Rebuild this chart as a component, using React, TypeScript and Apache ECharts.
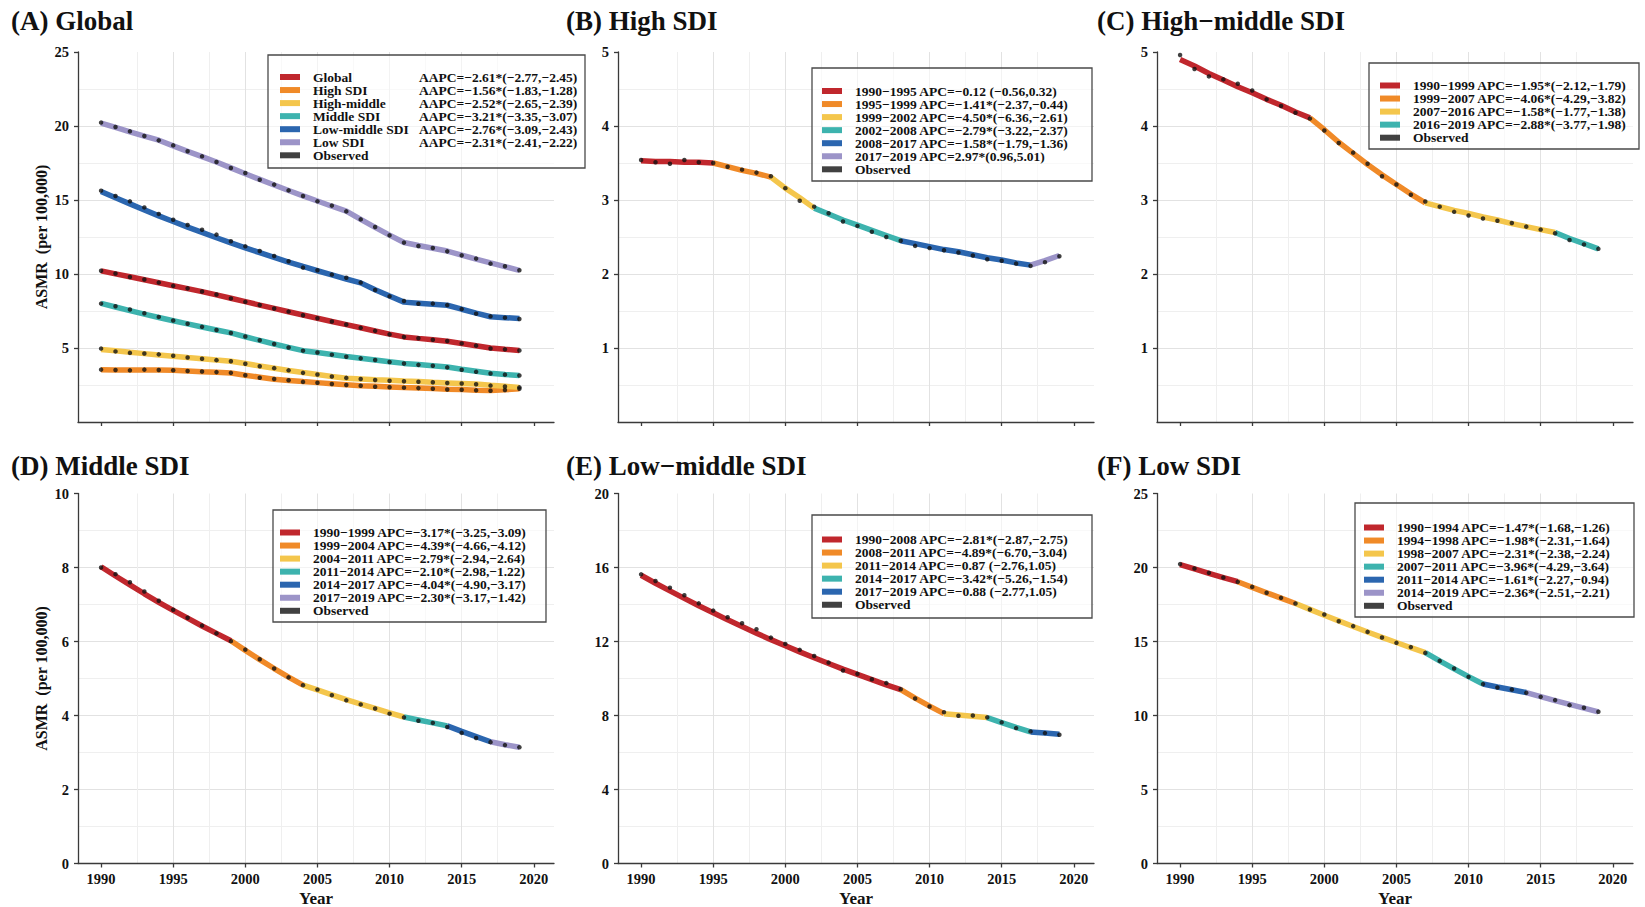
import React, { useEffect, useRef } from "react";
import * as echarts from "echarts";

// ---------------- DATA ----------------
const years = [1990, 1991, 1992, 1993, 1994, 1995, 1996, 1997, 1998, 1999, 2000, 2001, 2002, 2003, 2004, 2005, 2006, 2007, 2008, 2009, 2010, 2011, 2012, 2013, 2014, 2015, 2016, 2017, 2018, 2019];
const tickYears = [1990, 1995, 2000, 2005, 2010, 2015, 2020];

const globalObserved = [10.22, 10.03, 9.8, 9.63, 9.42, 9.2, 9.03, 8.82, 8.61, 8.35, 8.12, 7.91, 7.67, 7.46, 7.21, 7.01, 6.79, 6.59, 6.36, 6.16, 5.92, 5.74, 5.66, 5.56, 5.47, 5.31, 5.16, 4.97, 4.91, 4.83];
const globalFitted = [10.21, 10.01, 9.81, 9.61, 9.41, 9.21, 9.01, 8.81, 8.59, 8.36, 8.13, 7.9, 7.68, 7.45, 7.23, 7.01, 6.79, 6.58, 6.37, 6.15, 5.94, 5.75, 5.65, 5.56, 5.46, 5.31, 5.15, 5.0, 4.91, 4.83];

const highObserved = [3.54, 3.51, 3.49, 3.54, 3.51, 3.5, 3.45, 3.41, 3.37, 3.32, 3.16, 2.99, 2.91, 2.82, 2.71, 2.65, 2.57, 2.5, 2.45, 2.38, 2.35, 2.32, 2.29, 2.25, 2.2, 2.18, 2.14, 2.11, 2.16, 2.24];
const highFitted = [3.53, 3.52, 3.52, 3.51, 3.51, 3.5, 3.45, 3.4, 3.36, 3.31, 3.16, 3.03, 2.89, 2.81, 2.73, 2.66, 2.59, 2.52, 2.45, 2.41, 2.37, 2.33, 2.3, 2.26, 2.22, 2.19, 2.15, 2.12, 2.18, 2.25];

const highMiddleObserved = [4.96, 4.77, 4.67, 4.63, 4.57, 4.48, 4.36, 4.27, 4.18, 4.1, 3.94, 3.77, 3.64, 3.49, 3.32, 3.21, 3.07, 2.98, 2.91, 2.84, 2.79, 2.75, 2.72, 2.69, 2.64, 2.6, 2.55, 2.46, 2.4, 2.34];
const highMiddleFitted = [4.9, 4.81, 4.71, 4.62, 4.53, 4.45, 4.36, 4.28, 4.19, 4.11, 3.95, 3.78, 3.63, 3.48, 3.34, 3.21, 3.08, 2.96, 2.91, 2.86, 2.82, 2.77, 2.73, 2.68, 2.64, 2.6, 2.56, 2.48, 2.41, 2.34];

const middleObserved = [8.0, 7.82, 7.6, 7.35, 7.1, 6.86, 6.64, 6.43, 6.22, 6.01, 5.78, 5.52, 5.27, 5.03, 4.82, 4.7, 4.55, 4.41, 4.3, 4.19, 4.05, 3.95, 3.86, 3.8, 3.69, 3.53, 3.39, 3.28, 3.2, 3.14];
const middleFitted = [8.02, 7.77, 7.53, 7.29, 7.06, 6.84, 6.63, 6.42, 6.22, 6.02, 5.76, 5.51, 5.27, 5.04, 4.82, 4.69, 4.56, 4.43, 4.31, 4.19, 4.07, 3.96, 3.88, 3.8, 3.72, 3.57, 3.43, 3.29, 3.21, 3.14];

const lowMiddleObserved = [15.63, 15.27, 14.91, 14.5, 14.06, 13.67, 13.31, 12.99, 12.66, 12.21, 11.87, 11.55, 11.22, 10.86, 10.43, 10.25, 9.96, 9.75, 9.42, 8.92, 8.49, 8.18, 7.99, 8.0, 7.9, 7.63, 7.32, 7.14, 7.05, 6.96];
const lowMiddleFitted = [15.58, 15.15, 14.74, 14.33, 13.93, 13.55, 13.17, 12.81, 12.45, 12.1, 11.77, 11.44, 11.12, 10.81, 10.51, 10.22, 9.94, 9.66, 9.4, 8.94, 8.51, 8.1, 8.03, 7.96, 7.89, 7.62, 7.36, 7.11, 7.05, 6.99];

const lowObserved = [20.23, 19.93, 19.64, 19.32, 19.03, 18.69, 18.29, 17.95, 17.57, 17.16, 16.82, 16.37, 16.04, 15.65, 15.27, 14.91, 14.62, 14.23, 13.69, 13.18, 12.61, 12.12, 11.89, 11.76, 11.53, 11.26, 11.04, 10.7, 10.52, 10.25];
const lowFitted = [20.2, 19.9, 19.61, 19.32, 19.04, 18.66, 18.29, 17.93, 17.57, 17.17, 16.77, 16.39, 16.01, 15.64, 15.28, 14.93, 14.58, 14.25, 13.69, 13.15, 12.63, 12.13, 11.93, 11.74, 11.55, 11.28, 11.01, 10.75, 10.5, 10.25];

const regionNames = ["Global", "High SDI", "High-middle", "Middle SDI", "Low-middle SDI", "Low SDI"];
const regionAAPC = [
  "AAPC=−2.61*(−2.77,−2.45)",
  "AAPC=−1.56*(−1.83,−1.28)",
  "AAPC=−2.52*(−2.65,−2.39)",
  "AAPC=−3.21*(−3.35,−3.07)",
  "AAPC=−2.76*(−3.09,−2.43)",
  "AAPC=−2.31*(−2.41,−2.22)",
];

const highBreaks = [1990, 1995, 1999, 2002, 2008, 2017, 2019];
const highLabels = [
  "1990−1995 APC=−0.12 (−0.56,0.32)",
  "1995−1999 APC=−1.41*(−2.37,−0.44)",
  "1999−2002 APC=−4.50*(−6.36,−2.61)",
  "2002−2008 APC=−2.79*(−3.22,−2.37)",
  "2008−2017 APC=−1.58*(−1.79,−1.36)",
  "2017−2019 APC=2.97*(0.96,5.01)",
];
const highMiddleBreaks = [1990, 1999, 2007, 2016, 2019];
const highMiddleLabels = [
  "1990−1999 APC=−1.95*(−2.12,−1.79)",
  "1999−2007 APC=−4.06*(−4.29,−3.82)",
  "2007−2016 APC=−1.58*(−1.77,−1.38)",
  "2016−2019 APC=−2.88*(−3.77,−1.98)",
];
const middleBreaks = [1990, 1999, 2004, 2011, 2014, 2017, 2019];
const middleLabels = [
  "1990−1999 APC=−3.17*(−3.25,−3.09)",
  "1999−2004 APC=−4.39*(−4.66,−4.12)",
  "2004−2011 APC=−2.79*(−2.94,−2.64)",
  "2011−2014 APC=−2.10*(−2.98,−1.22)",
  "2014−2017 APC=−4.04*(−4.90,−3.17)",
  "2017−2019 APC=−2.30*(−3.17,−1.42)",
];
const lowMiddleBreaks = [1990, 2008, 2011, 2014, 2017, 2019];
const lowMiddleLabels = [
  "1990−2008 APC=−2.81*(−2.87,−2.75)",
  "2008−2011 APC=−4.89*(−6.70,−3.04)",
  "2011−2014 APC=−0.87 (−2.76,1.05)",
  "2014−2017 APC=−3.42*(−5.26,−1.54)",
  "2017−2019 APC=−0.88 (−2.77,1.05)",
];
const lowBreaks = [1990, 1994, 1998, 2007, 2011, 2014, 2019];
const lowLabels = [
  "1990−1994 APC=−1.47*(−1.68,−1.26)",
  "1994−1998 APC=−1.98*(−2.31,−1.64)",
  "1998−2007 APC=−2.31*(−2.38,−2.24)",
  "2007−2011 APC=−3.96*(−4.29,−3.64)",
  "2011−2014 APC=−1.61*(−2.27,−0.94)",
  "2014−2019 APC=−2.36*(−2.51,−2.21)",
];

const panelTitles = ["(A) Global", "(B) High SDI", "(C) High−middle SDI", "(D) Middle SDI", "(E) Low−middle SDI", "(F) Low SDI"];
const yMax = [25, 5, 5, 10, 20, 25];
const yInterval = [5, 1, 1, 2, 4, 5];

// ---------------- STYLE / LAYOUT ----------------
const palette = ["#C0272D", "#F08A28", "#F4C64C", "#3DB3AE", "#2B66AF", "#9C94C8"];
const FONT = "'Liberation Serif', 'Times New Roman', serif";
const colLeft = [78, 618, 1157];
const rowTop = [52, 493.5];
const plotW = 476;
const plotH = 370;
const titlePos = [[11, 7], [566, 7], [1097, 7], [11, 452], [566, 452], [1097, 452]];
const legendPos = [[280, 70], [822, 84], [1380, 78.5], [280, 525.5], [822, 532.5], [1364, 520.5]];
const legendBox = [
  [268, 55, 317, 113],
  [812, 68, 280, 113],
  [1369, 63, 270, 86],
  [273, 510, 273, 112],
  [812, 515, 280, 103],
  [1355, 503, 279, 114],
];
const legendGap = -0.95;

function buildOption() {
  const grids: any[] = [];
  const xAxes: any[] = [];
  const yAxes: any[] = [];
  const series: any[] = [];
  const legends: any[] = [];
  const titles: any[] = [];
  const graphics: any[] = [];

  const axisColor = "#3a3a3a";
  const labelStyle = { fontFamily: FONT, fontWeight: "bold", fontSize: 14.5, color: "#111" };

  for (let p = 0; p < 6; p++) {
    const row = p < 3 ? 0 : 1;
    const col = p % 3;
    grids.push({ left: colLeft[col], top: rowTop[row], width: plotW, height: plotH, containLabel: false, outerBoundsMode: "none" });
    xAxes.push({
      type: "value",
      gridIndex: p,
      min: 1988.4,
      max: 2021.4,
      axisLine: { show: true, onZero: false, lineStyle: { color: axisColor, width: 1.3 } },
      axisTick: { show: true, inside: false, length: 4, customValues: tickYears, lineStyle: { color: axisColor, width: 1.3 } },
      axisLabel: { show: row === 1, customValues: tickYears, margin: 8, ...labelStyle, formatter: (v: number) => String(v) },
      splitLine: { show: true, showMinLine: false, showMaxLine: false, lineStyle: { color: "#e2e2e2", width: 1 } },
      minorTick: { show: false, splitNumber: 2 },
      minorSplitLine: { show: true, lineStyle: { color: "#efefef", width: 1 } },
      name: row === 1 ? "Year" : "",
      nameLocation: "middle",
      nameGap: 26,
      nameTextStyle: { fontFamily: FONT, fontWeight: "bold", fontSize: 17, color: "#111" },
    });
    yAxes.push({
      type: "value",
      gridIndex: p,
      min: 0,
      max: yMax[p],
      interval: yInterval[p],
      axisLine: { show: true, onZero: false, lineStyle: { color: axisColor, width: 1.3 } },
      axisTick: { show: true, inside: false, length: 4, lineStyle: { color: axisColor, width: 1.3 } },
      axisLabel: { show: true, showMinLabel: row === 1, margin: 9, ...labelStyle },
      splitLine: { show: true, showMinLine: false, showMaxLine: false, lineStyle: { color: "#e2e2e2", width: 1 } },
      minorTick: { show: false, splitNumber: 2 },
      minorSplitLine: { show: true, lineStyle: { color: "#efefef", width: 1 } },
      name: col === 0 ? "ASMR  (per 100,000)" : "",
      nameLocation: "middle",
      nameGap: 29,
      nameRotate: 90,
      nameTextStyle: { fontFamily: FONT, fontWeight: "bold", fontSize: 16, color: "#111" },
    });
    titles.push({
      text: panelTitles[p],
      left: titlePos[p][0],
      top: titlePos[p][1],
      padding: 0,
      textStyle: { fontFamily: FONT, fontWeight: "bold", fontSize: 27, color: "#111" },
    });
    const b = legendBox[p];
    graphics.push({
      type: "rect",
      z: 3,
      silent: true,
      shape: { x: b[0], y: b[1], width: b[2], height: b[3] },
      style: { fill: "rgba(255,255,255,0.6)", stroke: "#4a4a4a", lineWidth: 1.3 },
    });
  }

  const legendText = {
    fontFamily: FONT,
    fontWeight: "bold",
    fontSize: 13.5,
    lineHeight: 12,
    color: "#111",
    padding: [0, 0, 0, 8],
  };
  const baseLegend = (p: number, data: string[]) => ({
    orient: "vertical",
    left: legendPos[p][0],
    top: legendPos[p][1],
    icon: "rect",
    itemWidth: 20,
    itemHeight: 6,
    itemGap: legendGap,
    padding: 0,
    selectedMode: false,
    z: 6,
    itemStyle: { borderWidth: 0 },
    data,
    textStyle: legendText,
  });

  // Panel A: all regions
  const regionFitted = [globalFitted, highFitted, highMiddleFitted, middleFitted, lowMiddleFitted, lowFitted];
  const regionObserved = [globalObserved, highObserved, highMiddleObserved, middleObserved, lowMiddleObserved, lowObserved];
  regionNames.forEach((name, k) => {
    series.push({
      type: "line",
      name,
      xAxisIndex: 0,
      yAxisIndex: 0,
      data: years.map((y, i) => [y, regionFitted[k][i]]),
      symbol: "none",
      silent: true,
      lineStyle: { width: 5.5, color: palette[k] },
      itemStyle: { color: palette[k] },
      z: 2,
    });
  });
  const obsA: number[][] = [];
  regionObserved.forEach((arr) => years.forEach((y, i) => obsA.push([y, arr[i]])));
  series.push({
    type: "scatter",
    name: "Observed",
    xAxisIndex: 0,
    yAxisIndex: 0,
    data: obsA,
    symbolSize: 4.5,
    silent: true,
    itemStyle: { color: "#111" },
    z: 5,
  });
  const aapcByName: Record<string, string> = {};
  regionNames.forEach((n, k) => (aapcByName[n] = regionAAPC[k]));
  legends.push({
    ...baseLegend(0, [...regionNames, "Observed"]),
    formatter: (name: string) => (aapcByName[name] ? `{n|${name}}{v|${aapcByName[name]}}` : `{n|${name}}`),
    textStyle: {
      ...legendText,
      rich: {
        n: { width: 106, fontFamily: FONT, fontWeight: "bold", fontSize: 13.5, lineHeight: 12, color: "#111" },
        v: { fontFamily: FONT, fontWeight: "bold", fontSize: 13.5, lineHeight: 12, color: "#111" },
      },
    },
  });

  // Panels B-F: joinpoint segments
  const panels = [
    { p: 1, breaks: highBreaks, labels: highLabels, fitted: highFitted, observed: highObserved },
    { p: 2, breaks: highMiddleBreaks, labels: highMiddleLabels, fitted: highMiddleFitted, observed: highMiddleObserved },
    { p: 3, breaks: middleBreaks, labels: middleLabels, fitted: middleFitted, observed: middleObserved },
    { p: 4, breaks: lowMiddleBreaks, labels: lowMiddleLabels, fitted: lowMiddleFitted, observed: lowMiddleObserved },
    { p: 5, breaks: lowBreaks, labels: lowLabels, fitted: lowFitted, observed: lowObserved },
  ];
  panels.forEach(({ p, breaks, labels, fitted, observed }) => {
    labels.forEach((label, k) => {
      const start = breaks[k];
      const end = breaks[k + 1];
      series.push({
        type: "line",
        name: label,
        xAxisIndex: p,
        yAxisIndex: p,
        data: years.map((y, i) => [y, fitted[i]]).filter((d) => d[0] >= start && d[0] <= end),
        symbol: "none",
        silent: true,
        lineStyle: { width: 5.5, color: palette[k] },
        itemStyle: { color: palette[k] },
        z: 2,
      });
    });
    series.push({
      type: "scatter",
      name: "Observed",
      xAxisIndex: p,
      yAxisIndex: p,
      data: years.map((y, i) => [y, observed[i]]),
      symbolSize: 4.5,
      silent: true,
      itemStyle: { color: "#111" },
      z: 5,
    });
    legends.push(baseLegend(p, [...labels, "Observed"]));
  });

  return {
    animation: false,
    backgroundColor: "#ffffff",
    textStyle: { fontFamily: FONT },
    title: titles,
    grid: grids,
    xAxis: xAxes,
    yAxis: yAxes,
    legend: legends,
    graphic: { elements: graphics },
    series,
  };
}

export default function App() {
  const ref = useRef<HTMLDivElement>(null);
  useEffect(() => {
    if (!ref.current) return;
    const chart = echarts.init(ref.current, null, { renderer: "svg" });
    chart.setOption(buildOption() as any);
    return () => chart.dispose();
  }, []);
  return (
    <div
      ref={ref}
      style={{ position: "fixed", left: 0, top: 0, width: 1645, height: 907, background: "#fff" }}
    />
  );
}
